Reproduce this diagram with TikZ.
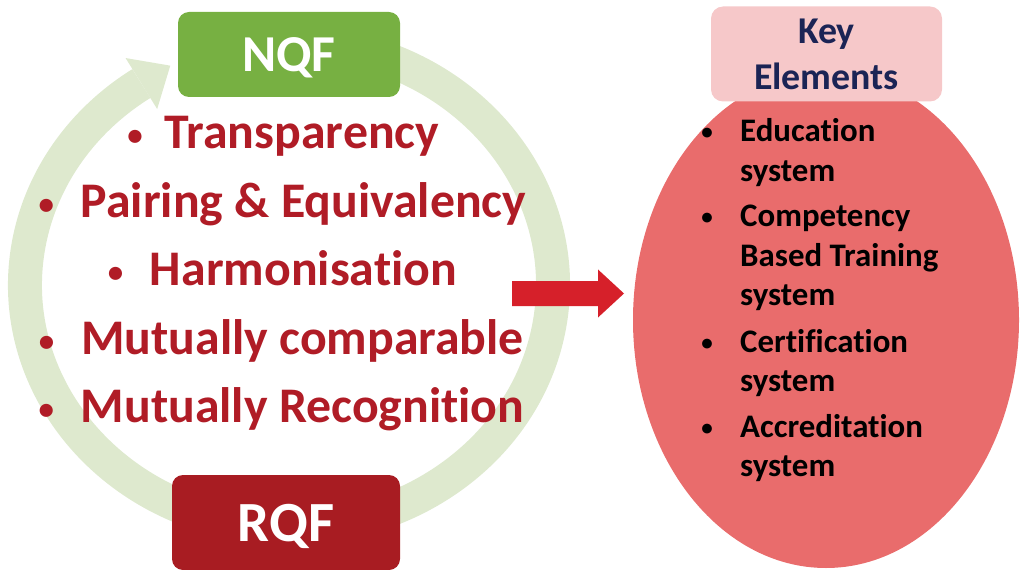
\documentclass[tikz,border=0pt]{standalone}
\usepackage{fontspec}
\setmainfont{Carlito}[RawFeature={-liga}]
\usetikzlibrary{calc,shapes.geometric}
\definecolor{ringgreen}{RGB}{222,233,206}
\definecolor{nqfgreen}{RGB}{119,176,66}
\definecolor{rqfred}{RGB}{168,28,34}
\definecolor{txtred}{RGB}{176,28,38}
\definecolor{arrowred}{RGB}{214,32,42}
\definecolor{ellred}{RGB}{233,108,108}
\definecolor{keypink}{RGB}{246,200,201}
\definecolor{keynavy}{RGB}{27,36,85}
\newcommand\smbul{\makebox[25bp]{\raisebox{3bp}{\scalebox{0.62}{•}}}}
\newcommand\kbul{\makebox[16bp]{\raisebox{2bp}{\scalebox{0.7}{•}}}}
\tikzset{
  qfbox/.style={rounded corners=11bp, inner sep=0pt, text=white, text depth=0pt},
  redline/.style={anchor=base, inner sep=0pt, text=txtred,
    font=\fontsize{50}{60}\selectfont\bfseries},
  keyitem/.style={anchor=base west, inner sep=0pt, text=black,
    font=\fontsize{33}{39.5}\selectfont\bfseries},
  ringband/.style={draw=ringgreen, line width=34bp},
}
\begin{document}
\begin{tikzpicture}[x=1bp,y=-1bp]
\useasboundingbox (0,0) rectangle (1024,570);
% circular arrow
\coordinate (rc) at (289,285);
\draw[ringband] ($(rc)+(80:264bp and 243bp)$) arc[start angle=80, end angle=-236, x radius=264bp, y radius=243bp];
\coordinate (hb) at ($(rc)+(124:264bp and 243bp)$);
\fill[ringgreen] ($(hb)+(-15.8,-25.5)$) -- ($(hb)+(28.9,-17.9)$) -- ($(hb)+(15.8,25.5)$) -- cycle;
% boxes
\node[qfbox, fill=nqfgreen, minimum width=222bp, minimum height=85bp,
  font=\fontsize{52}{60}\selectfont\bfseries] (nqf) at (289,54.5) {NQF};
\node[qfbox, fill=rqfred, minimum width=228bp, minimum height=95bp,
  font=\fontsize{57}{66}\selectfont\bfseries] (rqf) at (286,522.5) {RQF};
% bullet lines
\node[redline] (b1) at (281,149) {\smbul\hspace{17bp}Transparency};
\node[redline] (b2) at (280,218) {\smbul\hspace{22bp}Pairing \& Equivalency};
\node[redline] (b3) at (280,286) {\smbul\hspace{22bp}Harmonisation};
\node[redline] (b4) at (279,354) {\smbul\hspace{22bp}Mutually comparable};
\node[redline] (b5) at (279,422) {\smbul\hspace{22bp}Mutually Recognition};
% ellipse
\node[ellipse, fill=ellred, minimum width=386bp, minimum height=496bp, inner sep=0pt] (ell) at (826,320) {};
\node[rounded corners=12bp, fill=keypink, minimum width=231bp, minimum height=95bp,
  inner sep=0pt, align=center, text=keynavy, font=\fontsize{38}{46}\selectfont\bfseries]
  (key) at (826.5,54) {Key\\Elements};
% key element items
\node[keyitem] (k1) at (699,142) {\vtop{\hbox{\makebox[41bp][l]{\kbul}Education}\hbox{\hspace*{41bp}system}}};
\node[keyitem] (k2) at (699,227) {\vtop{\hbox{\makebox[41bp][l]{\kbul}Competency}\hbox{\hspace*{41bp}Based Training}\hbox{\hspace*{41bp}system}}};
\node[keyitem] (k3) at (699,352) {\vtop{\hbox{\makebox[41bp][l]{\kbul}Certification}\hbox{\hspace*{41bp}system}}};
\node[keyitem] (k4) at (699,437) {\vtop{\hbox{\makebox[41bp][l]{\kbul}Accreditation}\hbox{\hspace*{41bp}system}}};
% red block arrow
\coordinate (as) at (512,293.5);
\coordinate (ae) at (624,293.5);
\fill[arrowred] ($(as)+(0,-12.5)$) -- ($(ae)+(-26,-12.5)$) -- ($(ae)+(-26,-24)$) -- (ae)
  -- ($(ae)+(-26,24)$) -- ($(ae)+(-26,12.5)$) -- ($(as)+(0,12.5)$) -- cycle;
\end{tikzpicture}
\end{document}
